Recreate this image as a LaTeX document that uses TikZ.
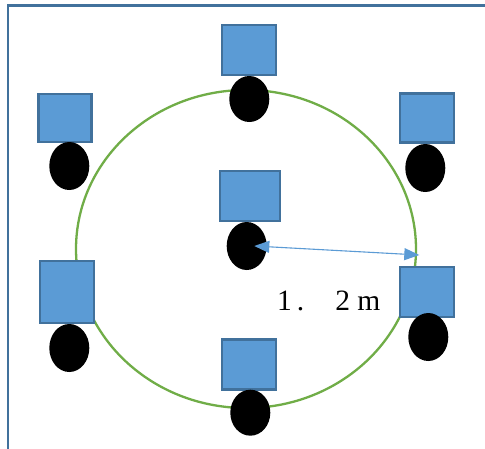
\documentclass[tikz,border=0pt]{standalone}
\usepackage{fontspec}
\setmainfont{Liberation Serif}
\usetikzlibrary{arrows.meta,shapes.geometric}
\definecolor{boxfill}{HTML}{5B9BD5}
\definecolor{boxline}{HTML}{41719C}
\definecolor{ringcol}{HTML}{70AD47}
\tikzset{
  seat/.style={rectangle, fill=boxfill, draw=boxline, line width=2.4pt, inner sep=0pt},
  head/.style={ellipse, fill=black, inner sep=0pt, minimum width=40pt, minimum height=48pt},
  dimline/.style={draw=boxfill, line width=1.1pt, {Triangle[length=15pt,width=12pt]}-{Triangle[length=15pt,width=12pt]}},
  lbltext/.style={inner sep=0pt, font=\fontsize{29.5}{31}\selectfont}
}
\begin{document}
\begin{tikzpicture}[x=1pt,y=-1pt]
\useasboundingbox (0,0) rectangle (485,448);
\clip (0,0) rectangle (485,448);
\fill[white] (0,0) rectangle (485,448);
\draw[boxline, line width=2.8pt] (8,5.3) rectangle (520,480);
% ring
\node[ellipse, draw=ringcol, line width=2.3pt, minimum width=340pt, minimum height=318pt, inner sep=0pt] (ring) at (246,249) {};
% seats and heads
\node[seat, minimum width=53pt, minimum height=48.2pt] (s1) at (65,118) {};
\node[head] (h1) at (69.3,166) {};
\node[seat, minimum width=53.9pt, minimum height=49.6pt] (s2) at (249.2,50) {};
\node[head, minimum height=46pt] (h2) at (249.3,99) {};
\node[seat, minimum width=53.9pt, minimum height=49pt] (s3) at (427.2,118) {};
\node[head] (h3) at (425.3,168) {};
\node[seat, minimum width=59.6pt, minimum height=49.6pt] (s4) at (250,196) {};
\node[head] (h4) at (246.7,246) {};
\node[seat, minimum width=53.9pt, minimum height=61.6pt] (s5) at (67.2,292) {};
\node[head] (h5) at (69.3,348) {};
\node[seat, minimum width=53.9pt, minimum height=50pt] (s6) at (249.2,364.5) {};
\node[head, minimum height=46pt] (h6) at (250.3,412.7) {};
\node[seat, minimum width=53.9pt, minimum height=49.9pt] (s7) at (427.2,292.2) {};
\node[head] (h7) at (428.3,337) {};
% dimension
\coordinate (a1) at (254.3,246);
\coordinate (a2) at (419.3,255);
\draw[dimline] (a1) -- (a2);
\node[lbltext, anchor=base west] (lbl) at (277,310) {1\hspace{5pt}.\hspace{31pt}2 m};
\end{tikzpicture}
\end{document}
